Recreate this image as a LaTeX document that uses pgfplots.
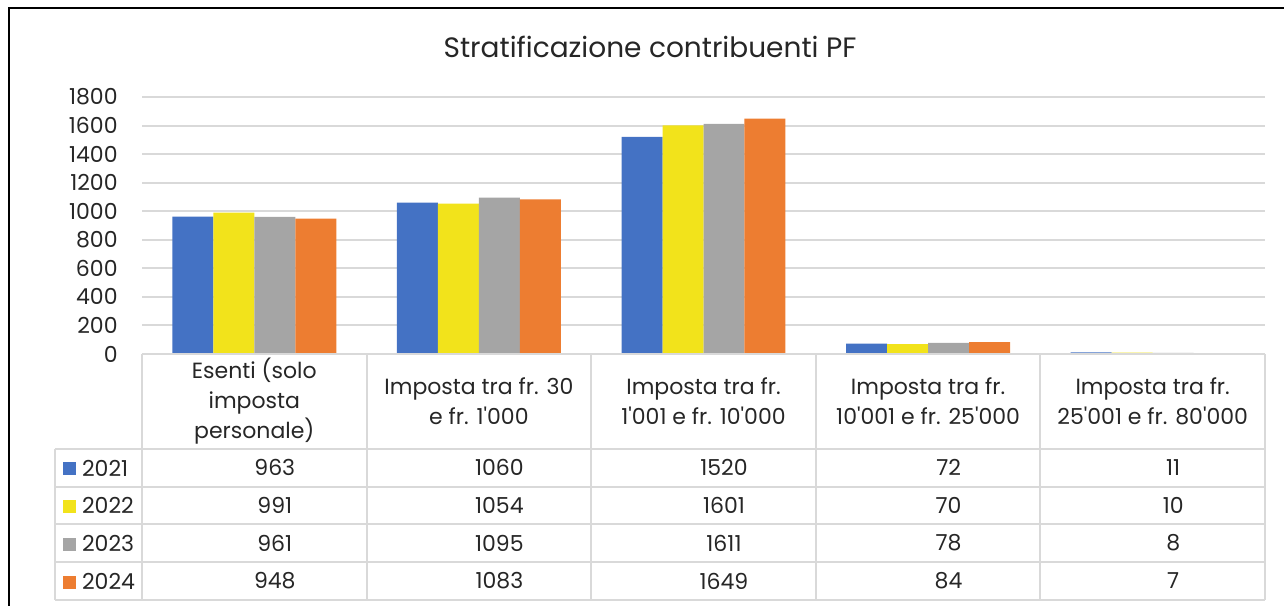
\documentclass[border=0pt]{standalone}
\usepackage{pgfplots}
\usepackage{pgfplotstable}
\usepackage{fontspec}
\setmainfont{Poppins}
\pgfplotsset{compat=1.18}
\definecolor{c1}{HTML}{4472C4}
\definecolor{c2}{HTML}{F2E31B}
\definecolor{c3}{HTML}{A5A5A5}
\definecolor{c4}{HTML}{ED7D31}
\definecolor{gridc}{HTML}{D9D9D9}

\pgfplotstableread{
x a b c d
0 963 991 961 948
1 1060 1054 1095 1083
2 1520 1601 1611 1649
3 72 70 78 84
4 11 10 8 7
}\data

\begin{document}
\begin{tikzpicture}
\begin{scope}[x=0.5pt,y=-0.5pt]
\useasboundingbox (0,0) rectangle (1284,605);
\draw[black, line width=1pt] (9,606) -- (9,8) -- (1285,8);
\node[font=\fontsize{14}{16}\selectfont, text=black!85] at (650,47) {Stratificazione contribuenti PF};
\end{scope}
\begin{axis}[
  at={(71pt,-177pt)}, anchor=south west,
  scale only axis, width=561.5pt, height=128.5pt,
  ybar=0pt, bar width=0.1825,
  xmin=-0.5, xmax=4.5, ymin=0, ymax=1800,
  ytick={0,200,...,1800},
  xtick={0,1,2,3,4},
  xticklabels={{Esenti (solo\\imposta\\personale)},{Imposta tra fr. 30\\e fr. 1\textquotesingle 000},{Imposta tra fr.\\1\textquotesingle 001 e fr. 10\textquotesingle 000},{Imposta tra fr.\\10\textquotesingle 001 e fr. 25\textquotesingle 000},{Imposta tra fr.\\25\textquotesingle 001 e fr. 80\textquotesingle 000}},
  xticklabel style={align=center, anchor=center, yshift=-23.5pt, font=\fontsize{11}{15}\selectfont, text=black!85},
  yticklabel style={font=\fontsize{11}{13}\selectfont, inner sep=0pt, xshift=-12pt, text=black!85},
  /pgf/number format/assume math mode=true,
  /pgf/number format/1000 sep={},
  major tick length=0pt,
  axis line style={draw=none},
  ymajorgrids, grid style={gridc, line width=1pt},
  clip=false,
  legend style={at={(-0.0703,-0.4164)}, anchor=north west, draw=none, fill=none, inner sep=0pt, outer sep=0pt,
    font=\fontsize{11}{13}\selectfont, row sep=11.4pt,
    nodes={inner sep=0pt, outer sep=0pt, text height=7.5pt, text depth=0pt, text=black!85},
    /tikz/every odd column/.append style={column sep=3pt}},
  legend cell align=left,
  legend image code/.code={\fill[#1] (0pt,-3.4pt) rectangle (6.5pt,3.1pt);},
]
\addplot[fill=c1, draw=none] table[x=x, y=a]{\data};
\addplot[fill=c2, draw=none] table[x=x, y=b]{\data};
\addplot[fill=c3, draw=none] table[x=x, y=c]{\data};
\addplot[fill=c4, draw=none] table[x=x, y=d]{\data};
\legend{2021,2022,2023,2024}
\pgfplotsset{tabrow/.style={forget plot, sharp plot, draw=none, mark=none, nodes near coords, point meta=explicit symbolic,
  every node near coord/.append style={anchor=center, inner sep=0pt, font=\fontsize{11}{13}\selectfont, text=black!85}}}
\addplot[tabrow] table[x=x, y expr=-794.9, meta=a]{\data};
\addplot[tabrow] table[x=x, y expr=-1057.6, meta=b]{\data};
\addplot[tabrow] table[x=x, y expr=-1323.7, meta=c]{\data};
\addplot[tabrow] table[x=x, y expr=-1589.9, meta=d]{\data};
\end{axis}
\begin{scope}[x=0.5pt,y=-0.5pt, gridc, line width=1pt]
\draw (142,354) -- (1265,354);
\foreach \yy in {449,487,524,562,600} {\draw (55,\yy) -- (1265,\yy);}
\foreach \xx in {142,367,591,816,1040,1265} {\draw (\xx,354) -- (\xx,600);}
\draw (55,449) -- (55,600);
\end{scope}
\end{tikzpicture}
\end{document}
